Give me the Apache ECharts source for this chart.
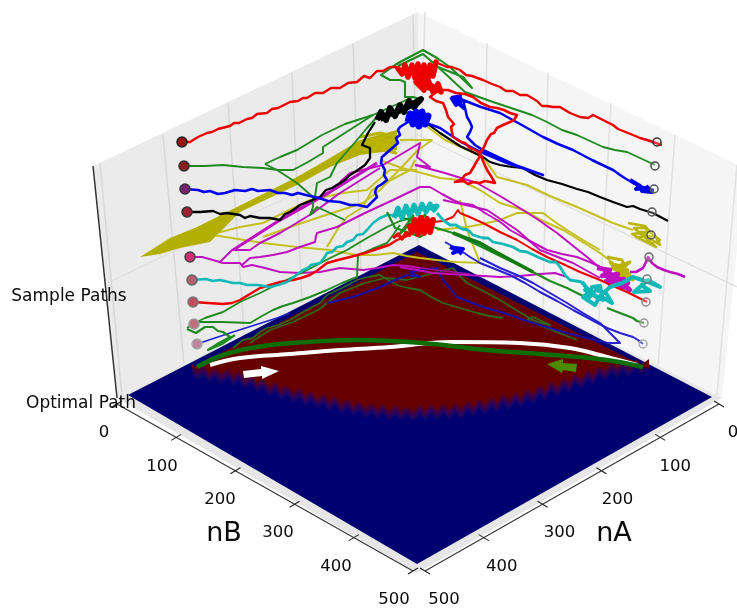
<!DOCTYPE html>
<html><head><meta charset="utf-8">
<style>html,body{margin:0;padding:0;background:#fff}#c{width:737px;height:614px}</style>
<script src="https://cdn.jsdelivr.net/npm/echarts@6/dist/echarts.min.js"></script>
</head><body><div id="c"></div>
<script>
// plot-plane readings (horizontal, vertical) on the chart's two hidden value axes
const tickValues=[0,100,200,300,400,500];
const levelLabels=['Sample Paths','Optimal Path'];
const leftWall=[[93,166],[418,12],[418,245],[117,398]];
const rightWall=[[418,12],[745,168],[722,398],[418,245]];
const floorPane=[[117,398],[418,245],[722,398],[417,573]];
const floorField=[[128,395],[419,245],[712,397],[417,564]];
const leftGrid=[[[100,163],[122,396]],[[163,135],[184,364]],[[228,103],[244,332]],[[292,73],[302,303]],[[353,43],[361,272]],[[413,15],[418,245]]];
const rightGrid=[[[425,12],[418,245]],[[487,43],[483,278]],[[548,73],[543,308]],[[611,103],[598,336]],[[675,135],[658,366]],[[737,165],[717,395]]];
const levelGrid=[[[107,283],[418,135],[737,287]]];
const zAxisLine=[[93,166],[117,398]];
const nBAxisEnds=[[117,404],[413,571]];
const nAAxisEnds=[[719,404],[425,571]];
const fieldTop=[[192,368],[417,252],[649,369]];
const fieldEdge=[[192,374],[197,380],[204,376],[209,383],[215,378],[221,384],[229,379],[233,386],[239,381],[245,389],[252,385],[257,393],[263,388],[269,397],[276,392],[281,400],[287,395],[293,403],[300,398],[305,406],[311,401],[317,409],[324,404],[329,411],[335,406],[341,414],[348,409],[353,416],[359,411],[365,418],[372,413],[377,419],[383,414],[389,421],[396,415],[401,421],[407,416],[413,422],[420,415],[425,421],[431,414],[437,420],[444,414],[449,420],[455,413],[461,419],[468,411],[473,417],[479,409],[485,415],[492,407],[497,413],[503,404],[509,410],[516,402],[521,408],[527,399],[533,404],[540,395],[545,401],[551,391],[557,397],[564,388],[569,393],[575,384],[581,389],[588,380],[593,385],[599,376],[605,381],[612,373],[617,378],[623,371],[629,377],[636,369],[641,375],[649,369]];
const whiteArrow=[[243,371],[261,369],[261,366],[279,371],[262,379],[262,376],[244,378]];
const greenArrow=[[547,364],[563,359],[563,363],[577,364],[576,372],[563,370],[562,373]];
const optimalWhite=[[210,365],[240,358],[290,354],[340,350],[390,347],[430,343],[453,342],[520,343],[570,348],[607,357],[637,365]];
const optimalGreen=[[197,367],[223,355],[257,347],[307,342],[357,340],[423,343],[487,350],[553,355],[607,360],[643,367]];
const startDots=[[182,142],[184,166],[185,189],[187,212],[189,235],[190,257],[192,280],[193,302],[194,324],[197,344]];
const endDots=[[657,142],[655,166],[654,189],[652,212],[651,235],[649,257],[647,279],[646,302],[644,323],[643,344]];

const red1=[[182,142],[190,142],[198,137],[207,133],[212,132],[218,129],[230,126],[234,123],[239,123],[247,119],[252,118],[257,114],[267,113],[272,109],[278,108],[290,102],[298,101],[303,98],[307,98],[315,93],[323,93],[331,88],[340,88],[348,83],[357,82],[364,76],[370,78],[377,71],[383,71],[390,67],[397,67],[405,72]];
const red1Blob=[[397,67],[402,74],[405,65],[408,77],[412,65],[415,78],[418,64],[421,78],[424,65],[427,79],[430,65],[433,76],[436,62],[434,72],[428,70],[420,71],[412,71],[404,70],[400,71],[408,74],[418,68],[426,74],[434,68],[428,78],[420,80],[416,82],[424,90],[428,80],[433,92],[438,84],[441,92],[432,86],[422,82],[430,88],[420,86]];
const red1Right=[[435,62],[447,67],[452,67],[460,70],[466,75],[472,76],[483,80],[492,84],[500,87],[506,91],[513,91],[520,95],[527,95],[537,101],[542,106],[547,106],[553,107],[560,107],[570,113],[580,117],[588,118],[593,115],[597,117],[605,121],[613,125],[618,129],[623,131],[633,135],[640,138],[647,140],[662,145]];
const red1Loop=[[417,80],[428,85],[440,90],[448,90],[456,93],[465,94],[473,97],[481,103],[490,107],[497,108],[504,110],[510,113],[517,115],[514,120],[510,122],[503,125],[497,128],[494,133],[491,134],[487,140],[484,147],[480,153],[479,158],[477,161],[473,168],[470,173],[465,175],[461,180],[455,182],[464,181],[468,184],[473,182],[480,183],[485,181],[495,183],[491,176],[487,170],[483,161],[480,153],[475,150],[470,148],[465,143],[461,142],[453,137],[451,127],[454,124],[448,117],[446,110],[443,103],[436,101],[430,97],[435,93],[440,90]];
const green1Main=[[184,166],[205,166],[223,165],[243,167],[263,168],[278,170],[293,170],[308,162],[323,153],[323,147],[348,131],[373,115],[393,106],[413,97],[420,99]];
const green1Branch=[[265,164],[280,157],[297,150],[322,135],[345,124],[373,115]];
const green1Drop=[[265,164],[277,170],[297,183],[313,197],[313,207],[310,215],[317,207],[330,213],[345,220]];
const green1Rise=[[315,197],[317,183],[330,177],[337,163],[357,140],[367,128],[377,117]];
const green1Top=[[413,97],[405,97],[405,82],[400,80],[390,80],[381,75],[395,65],[400,62],[423,50],[437,58],[450,67],[472,88],[463,77],[438,67],[423,54],[398,66]];
const green1Right=[[438,67],[465,92],[493,102],[517,110],[532,115],[547,122],[562,130],[577,135],[590,141],[603,147],[615,150],[627,152],[640,158],[655,165]];
const blue1=[[185,189],[198,190],[204,192],[210,191],[218,194],[225,193],[235,190],[245,191],[252,189],[258,191],[270,190],[278,193],[285,193],[292,195],[298,193],[310,196],[319,198],[328,201],[340,202],[350,205],[358,205],[367,207],[372,202],[377,197],[375,192],[377,187],[382,184],[387,180],[384,175],[385,170],[381,163],[382,157],[390,150],[398,143],[396,138],[400,135],[398,130],[400,127],[408,122],[417,117]];
const blue1Blob=[[408,122],[410,114],[413,124],[416,112],[419,126],[422,112],[425,124],[428,116],[424,120],[414,118],[420,118],[416,122],[411,119],[419,122],[424,114]];
const blueTopBlob=[[451,97],[456,105],[460,96],[458,102],[464,108],[454,100],[462,103]];
const blue1Right=[[425,123],[432,125],[440,128],[452,136],[463,143],[473,148],[483,153],[495,158],[507,163],[525,169],[543,175],[515,165],[483,150],[475,145],[467,137],[470,132],[472,127],[470,122],[467,117],[465,108],[463,100],[457,99],[452,97],[458,96],[463,100],[481,107],[500,113],[520,124],[543,137],[558,144],[573,150],[592,160],[613,170],[623,177],[633,183],[645,188],[654,190]];
const blueEndBlob=[[630,180],[640,186],[636,189],[646,188],[642,191],[652,192],[646,186]];
const black1=[[187,212],[200,212],[213,211],[220,214],[227,213],[240,215],[245,218],[250,216],[260,218],[270,218],[280,220],[285,214],[290,212],[296,208],[300,205],[310,201],[320,197],[326,190],[332,188],[345,180],[350,175],[355,172],[365,165],[370,158],[370,148],[362,145],[368,133],[375,122]];
const black1Blob=[[377,120],[381,112],[386,120],[390,108],[395,116],[400,105],[404,112],[409,101],[414,107],[421,99],[413,104],[402,110],[390,114],[380,119]];
const black1Right=[[425,122],[440,133],[460,146],[483,157],[490,162],[500,165],[512,167],[523,168],[535,175],[547,180],[562,184],[577,189],[588,192],[600,197],[613,202],[627,207],[633,206],[640,209],[653,213],[668,221]];
const yellowBandFill=[[140,257],[170,238],[197,227],[297,177],[330,158],[360,140],[397,130],[397,150],[360,155],[330,167],[297,185],[240,212],[210,242],[180,248],[160,254]];
const yellowBlobLeft=[[360,137],[380,133],[397,137],[365,150],[392,146],[372,139],[396,153],[362,145],[385,137]];
const yellow2=[[213,235],[238,239],[263,243],[297,247],[330,250],[345,253],[357,255],[375,255],[393,253],[407,256],[420,258],[445,261],[457,262],[480,263],[467,230],[460,200]];
const yellow3=[[205,236],[240,227],[263,223],[310,200],[343,193],[367,190],[390,170],[417,170]];
const yellow4=[[263,237],[290,227],[320,217],[363,203],[380,190],[418,150],[432,140],[400,140]];
const yellow5=[[327,247],[337,230],[347,217],[363,207],[372,190],[410,170],[415,160]];
const yellow6=[[380,160],[402,168],[418,172],[440,178],[460,180],[480,190],[500,203],[523,210],[543,221],[563,230],[581,241],[600,253],[613,263],[630,277]];
const yellow7=[[437,230],[467,227],[483,224],[500,220],[517,213],[530,213],[543,213],[555,222],[567,230],[583,240],[600,250]];
const yellow8=[[425,125],[445,140],[483,157],[497,177],[527,185],[550,196],[577,207],[595,215],[613,223],[633,230]];
const yellowEndUp=[[628,223],[645,226],[658,240],[660,245],[640,232],[652,232],[632,234],[650,244],[660,240],[645,228],[634,228],[656,247],[636,237],[655,236]];
const yellowEndLow=[[607,257],[622,260],[625,268],[633,280],[612,268],[630,262],[618,272],[629,275],[610,262],[622,278],[628,270],[615,264]];
const magenta1=[[190,257],[202,257],[213,260],[223,263],[240,263],[243,267],[252,265],[265,268],[280,272],[300,273],[320,272],[340,268],[352,269],[363,270],[378,268],[393,265],[408,266],[420,268]];
const magenta1Right=[[400,267],[433,273],[467,275],[500,277],[520,276],[540,274],[555,273],[567,277]];
const magentaThick=[[233,250],[255,236],[280,220],[330,192],[377,163]];
const magenta2=[[220,262],[232,250],[250,250],[260,243],[280,233],[313,213],[340,193],[380,168]];
const magenta3=[[242,265],[250,258],[260,257],[273,255],[287,252],[300,247],[315,242],[316,236],[317,233],[327,230],[337,227],[365,213],[393,200],[420,187],[430,187]];
const magentaUp=[[340,182],[350,173],[383,165],[420,143],[417,157],[430,167],[415,165]];
const magentaRight1=[[415,165],[445,173],[477,183],[500,196],[523,210],[540,221],[557,233],[572,245],[587,257],[600,268],[613,278],[630,290]];
const magentaRight2=[[430,187],[442,194],[453,200],[460,203],[473,205],[485,213],[497,220],[503,224],[510,230],[528,240],[547,250],[562,254],[577,257],[592,263],[607,270],[618,278],[630,290]];
const magentaRight3=[[443,200],[470,206],[487,210],[517,230],[540,250],[573,263],[600,278]];
const magentaBlob=[[597,268],[610,270],[602,276],[618,274],[606,281],[624,279],[610,285],[628,283],[616,277],[630,290],[605,275],[622,287],[612,279],[626,288]];
const magentaTail=[[630,272],[636,272],[643,268],[646,262],[648,257],[652,263],[657,267],[664,270],[670,272],[678,274],[685,277]];
const cyan1=[[192,280],[206,279],[213,281],[220,280],[233,283],[240,283],[247,285],[258,285],[270,287],[278,285],[287,282],[295,276],[303,270],[308,268],[311,265],[320,263],[324,258],[327,253],[332,252],[337,247],[343,246],[347,242],[353,240],[357,235],[363,234],[367,230],[373,223],[380,218],[387,215],[393,215],[400,212],[407,212],[414,209]];
const cyanBlob=[[394,218],[398,208],[402,218],[406,206],[410,216],[414,205],[418,214],[422,204],[426,212],[430,204],[434,210],[437,206],[430,208],[420,209],[410,211],[402,213],[396,215]];
const cyan1Right=[[437,213],[443,220],[450,225],[456,225],[462,229],[468,230],[473,235],[483,238],[488,238],[493,242],[503,244],[513,247],[520,251],[527,252],[540,258],[550,262],[556,262],[560,267],[565,275],[570,280],[582,282]];
const cyanBlobRight=[[582,282],[590,292],[583,297],[595,305],[600,296],[612,303],[606,293],[596,290],[587,300],[592,287],[600,286],[603,300],[585,290],[598,298],[610,287],[622,283],[633,277],[645,281],[660,287],[648,280],[634,292],[650,291],[640,284]];
const red2=[[193,302],[208,303],[223,304],[232,303],[240,300],[250,294],[260,288],[270,285],[280,282],[286,281],[293,280],[301,278],[310,275],[318,270],[327,263],[338,260],[350,257],[365,253],[380,248],[389,245],[397,240],[405,237],[413,233]];
const red2Blob=[[409,224],[412,232],[415,220],[418,234],[421,218],[424,233],[427,219],[430,232],[433,220],[431,226],[423,226],[414,226],[420,229],[428,224],[418,222],[411,228]];
const red2Low=[[393,238],[398,234],[402,239],[406,233],[411,236]];
const red2Right=[[433,222],[443,221],[453,217],[458,210],[460,213],[472,218],[483,223],[500,232],[517,240],[532,249],[547,257],[563,264],[580,272],[590,276],[600,280],[613,286],[627,292],[637,297],[647,302]];
const green2=[[187,328],[193,324],[205,318],[223,312],[240,302],[260,293],[280,283],[297,275],[313,267],[330,258],[347,250],[367,238],[387,227],[400,221],[413,217]];
const green2Thick=[[453,233],[466,238],[480,243],[494,251],[507,258],[520,265],[533,272]];
const green2Right=[[400,217],[416,222],[433,227],[453,233],[533,272],[550,281],[567,288],[585,297]];
const green2End=[[607,308],[620,313],[633,318],[637,321],[644,323]];
const green3=[[195,322],[222,322],[250,323],[262,316],[273,310],[283,306],[293,303],[310,297],[327,290],[342,283],[357,277],[358,255],[372,249],[387,243],[393,235],[400,225]];
const green4=[[187,329],[196,333],[205,327],[213,327],[218,331],[223,332],[230,337],[219,343],[208,350],[222,344],[235,335]];
const greenTangle=[[387,212],[395,228],[407,232],[420,237],[432,228],[425,215],[410,224],[398,236],[414,215]];
const greenUnder1=[[233,348],[243,340],[253,338],[260,332],[267,328],[278,325],[290,320],[305,311],[320,303],[327,295],[342,288],[357,280],[368,277],[380,275],[388,280],[397,285],[408,288],[420,290],[431,297],[443,303],[460,308],[477,313],[490,316],[503,318]];
const greenUnder2=[[250,343],[270,330],[293,322],[318,310],[340,293],[365,283],[385,278],[407,280],[430,274],[453,268],[460,276],[467,283],[483,291],[500,300],[516,310],[533,320],[541,323],[550,325],[533,317],[527,320],[552,330],[577,340]];
const blue2Left=[[197,344],[215,338],[233,332],[255,325],[277,318],[290,313]];
const blueUnder=[[327,303],[340,300],[353,297],[367,292],[380,287],[393,281],[407,275],[420,277],[410,272],[420,270],[437,268],[440,274],[443,280],[450,288],[457,297],[470,302],[483,307],[497,311],[510,315],[521,319],[533,323],[550,328],[567,333],[587,338],[607,343],[620,343]];
const blue3=[[445,242],[452,246],[460,250],[470,257],[480,263],[495,269],[510,275],[525,283],[540,292],[557,301],[573,310],[590,319],[607,328],[620,333],[633,337],[638,340],[643,344]];
const blue3Blob=[[450,247],[458,251],[453,253],[463,249],[455,248],[462,254]];
const blue4=[[480,258],[490,263],[500,268],[517,275],[533,283],[550,293],[567,303],[583,313],[600,323],[620,343],[607,343]];
const magentaUnder=[[420,268],[445,271],[470,274]];

const W=737,H=614;
const series=[];let zi=1;
function poly(name,pts,fill,extra){
  series.push({type:'custom',name,coordinateSystem:'cartesian2d',silent:true,z:zi++,clip:false,
    data:[[pts[0][0],pts[0][1]]],
    renderItem:(p,api)=>({type:'polygon',shape:{points:pts.map(q=>api.coord(q))},style:Object.assign({fill:fill},extra||{})})});
}
function path(name,pts,color,width,smooth){
  series.push({type:'line',name,data:pts,showSymbol:false,silent:true,z:zi++,clip:false,animation:false,smooth:smooth?0.4:false,
    lineStyle:{color,width:width||1.6,opacity:1,join:'round'},itemStyle:{color}});
}
function label(name,pts,size){
  series.push({type:'scatter',name,silent:true,z:zi+200,symbolSize:1,itemStyle:{color:'rgba(0,0,0,0)',opacity:1},
    data:pts.map(p=>({value:[p[0],p[1]],name:String(p[2])})),
    label:{show:true,position:'inside',formatter:'{b}',color:'#0a0a0a',opacity:1,fontFamily:'"DejaVu Sans"',fontSize:size}});
}
const lerp=(e,v)=>[e[0][0]+(e[1][0]-e[0][0])*v/500,e[0][1]+(e[1][1]-e[0][1])*v/500];

poly('left wall',leftWall,'#ebebeb');
poly('right wall',rightWall,'#f5f5f5');
poly('floor pane',floorPane,'#e6e6e6');
leftGrid.forEach((g,i)=>path('left grid '+i,g,'#d8d8d8',1.5));
rightGrid.forEach((g,i)=>path('right grid '+i,g,'#e0e0e0',1.5));
levelGrid.forEach((g,i)=>path('level grid '+i,g,'#dedede',1.3));
path('z axis',zAxisLine,'#333',1.5);
path('nB axis',nBAxisEnds,'#333',1.1);
path('nA axis',nAAxisEnds,'#333',1.1);
tickValues.forEach(v=>{
  const a=lerp(nBAxisEnds,v),b=lerp(nAAxisEnds,v);
  path('nB tick '+v,[[a[0]-5,a[1]+3],[a[0]+5,a[1]-3]],'#222',1.1);
  path('nA tick '+v,[[b[0]-5,b[1]-3],[b[0]+5,b[1]+3]],'#222',1.1);
});
poly('floor field',floorField,'#000070');
const band=(d,col)=>poly('field band',[fieldTop[0],fieldTop[1],fieldTop[2]].concat(fieldEdge.slice().reverse().map(p=>[p[0],p[1]-d])),col);
band(0,'#140668');band(3,'#2c0358');band(6,'#45023a');band(10,'#660000');

// paths under the field tint
path('green under 1',greenUnder1,'#2f6a1c',1.8);
path('green under 2',greenUnder2,'#2f6a1c',1.8);
path('blue under',blueUnder,'#1a10a8',2);
path('magenta under',magentaUnder,'#a0109a',1.6);
path('blue 2 left',blue2Left,'#2222cc',1.7);

const Y='#b8b400',G='#1f8a1f',B='#0000ee',R='#ee0000',M='#bf10bf',C='#10b8b8',K='#000';
[yellow2,yellow3,yellow4,yellow5,yellow6,yellow7,yellow8].forEach((p,i)=>path('yellow '+i,p,'#c4c020',2));
poly('yellow band',yellowBandFill,'#b3af00');
path('yellow blob left',yellowBlobLeft,Y,3);
path('yellow end up',yellowEndUp,Y,2.4);
path('yellow end low',yellowEndLow,Y,3);
path('magenta thick',magentaThick,M,3.2);
[magenta1,magenta1Right,magenta2,magenta3,magentaUp,magentaRight1,magentaRight2,magentaRight3].forEach((p,i)=>path('magenta '+i,p,M,2));
path('magenta blob',magentaBlob,M,4.5);
path('magenta tail',magentaTail,M,2.6);
path('green 3',green3,G,1.9);
path('green 4',green4,G,2.2);
path('green 2',green2,G,1.9);
path('green 2 right',green2Right,G,2);
path('green 2 thick',green2Thick,'#127a12',3.6);
path('green 2 end',green2End,G,2.2);
path('red 2',red2,R,2.4);
path('red 2 right',red2Right,R,2);
path('cyan 1',cyan1,C,2.6);
path('cyan blob',cyanBlob,C,5);
path('cyan right',cyan1Right,C,2.8);
path('cyan blob right',cyanBlobRight,C,4);
path('green tangle',greenTangle,G,2.2);
path('red 2 blob',red2Blob,R,6);
path('red 2 low',red2Low,R,3.5);
path('blue 3',blue3,'#2a22d0',2);
path('blue 3 blob',blue3Blob,B,4);
path('blue 4',blue4,'#2a22d0',2);
path('green 1 main',green1Main,G,1.9);
path('green 1 branch',green1Branch,G,1.9);
path('green 1 drop',green1Drop,G,1.9);
path('green 1 rise',green1Rise,G,1.9);
path('green 1 top',green1Top,G,2.1);
path('green 1 right',green1Right,G,1.9);
path('black 1',black1,K,2.3);
path('black blob',black1Blob,K,6);
path('black right',black1Right,K,2.1);
path('blue 1',blue1,B,2.6);
path('blue blob',blue1Blob,B,7);
path('blue top blob',blueTopBlob,B,4);
path('blue right',blue1Right,B,2.5);
path('blue end blob',blueEndBlob,B,4);
path('red 1',red1,R,2.4);
path('red blob',red1Blob,R,5.5);
path('red right',red1Right,R,2.4);
path('red loop',red1Loop,R,2.6);

// optimal paths and direction arrows
path('optimal white',optimalWhite,'#ffffff',4,true);
path('optimal green',optimalGreen,'#0d6e08',4.5,true);
poly('white arrow',whiteArrow,'#ffffff');
poly('green arrow',greenArrow,'#4a8a00');

// start and end markers
const startFill=['#a01010','#8c1e1e','#7a2270','#a02030','#c0b020','#d03070','#b06070','#c05060','#c07080','#c080a0'];
const startEdge=['#222','#333','#333','#333','#666','#444','#666','#777','#999','#aaa'];
series.push({type:'scatter',name:'path start',silent:true,z:zi++,symbolSize:10,
  data:startDots.map((p,i)=>({value:p,itemStyle:{color:startFill[i],borderColor:startEdge[i],borderWidth:1.5,opacity:i===4?0:1}}))});
const endEdge=['#333','#444','#555','#555','#555','#666','#777','#888','#999','#aaa'];
series.push({type:'scatter',name:'path end',silent:true,z:zi++,symbolSize:8,
  data:endDots.map((p,i)=>({value:p,itemStyle:{color:'rgba(255,255,255,0.25)',borderColor:endEdge[i],borderWidth:1.5,opacity:1}}))});

// axis labels
label('nB labels',tickValues.map(v=>{const a=lerp(nBAxisEnds,v);return [a[0]-13-v*0.012,a[1]+29,v];}),16.5);
label('nA labels',tickValues.map(v=>{const a=lerp(nAAxisEnds,v);return [a[0]+14+v*0.01,a[1]+29,v];}),16.5);
label('nB title',[[224,534,'nB']],27);
label('nA title',[[614,534,'nA']],27);
label('z labels',[[69,297,levelLabels[0]],[81,404,levelLabels[1]]],17);

const chart=echarts.init(document.getElementById('c'),null,{renderer:'canvas'});
chart.setOption({animation:false,backgroundColor:'#fff',
  grid:{left:0,right:0,top:0,bottom:0},
  xAxis:{type:'value',min:0,max:W,show:false},
  yAxis:{type:'value',min:0,max:H,inverse:true,show:false},
  series});
</script></body></html>
